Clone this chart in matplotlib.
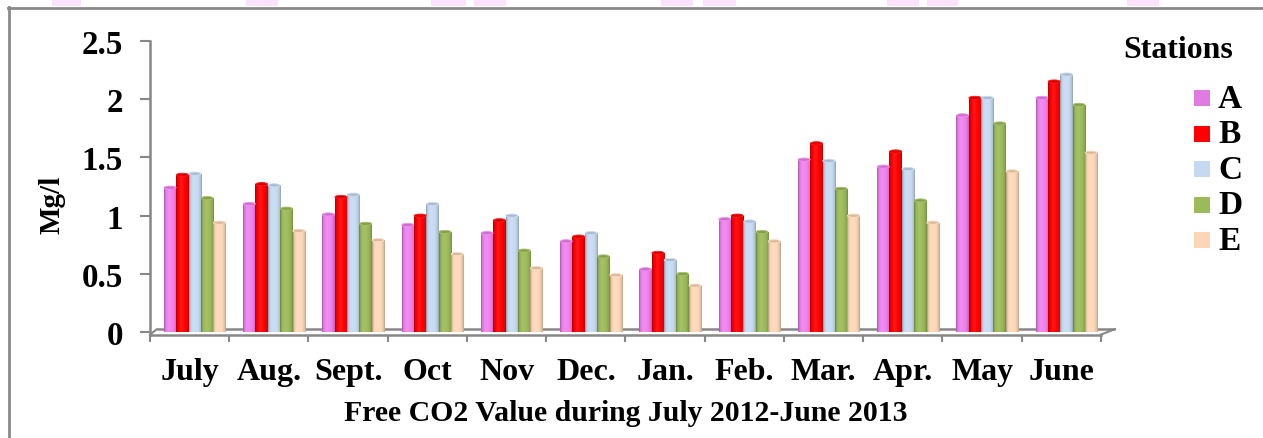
import numpy as np
import matplotlib
matplotlib.use("Agg")
import matplotlib.pyplot as plt
import matplotlib.colors as mcolors
from matplotlib.patches import Rectangle, Ellipse
from matplotlib.lines import Line2D

# ---- data -------------------------------------------------------------
months = ["July", "Aug.", "Sept.", "Oct", "Nov", "Dec.", "Jan.",
          "Feb.", "Mar.", "Apr.", "May", "June"]
stations = ["A", "B", "C", "D", "E"]
station_a = [1.24, 1.10, 1.01, 0.92, 0.85, 0.78, 0.54, 0.97, 1.48, 1.42, 1.86, 2.01]
station_b = [1.35, 1.27, 1.16, 1.00, 0.96, 0.82, 0.68, 1.00, 1.62, 1.55, 2.01, 2.15]
station_c = [1.36, 1.26, 1.18, 1.10, 1.00, 0.85, 0.62, 0.95, 1.47, 1.40, 2.01, 2.21]
station_d = [1.15, 1.06, 0.93, 0.86, 0.70, 0.65, 0.50, 0.86, 1.23, 1.13, 1.79, 1.95]
station_e = [0.94, 0.87, 0.79, 0.67, 0.55, 0.49, 0.40, 0.78, 1.00, 0.94, 1.38, 1.54]
y_ticks = [0, 0.5, 1, 1.5, 2, 2.5]
y_tick_labels = ["0", "0.5", "1", "1.5", "2", "2.5"]

series = [station_a, station_b, station_c, station_d, station_e]
colors = ["#ee82ee", "#ff0000", "#c6daf2", "#9bbb59", "#fdd8b8"]
legend_colors = ["#e07be0", "#ff0000", "#c5d9f0", "#9bbb59", "#fbd5b5"]

FONT = "Liberation Serif"
GREY = "#878787"

W, H = 1263, 439
fig = plt.figure(figsize=(W / 100, H / 100), dpi=100)
fig.patch.set_facecolor("white")

# faint pink smudges along the top edge of the page
page_marks = [(52, 81), (246, 278), (431, 466), (474, 506), (661, 693),
              (703, 736), (887, 919), (927, 958), (1127, 1159)]
for x0, x1 in page_marks:
    fig.patches.append(Rectangle((x0 / W, 1 - 7 / H), (x1 - x0) / W, 7 / H,
                                 transform=fig.transFigure, facecolor="#fbe2fb",
                                 edgecolor="none", zorder=0))

# chart frame (top and left edges)
fig.lines.append(Line2D([8.5 / W, 8.5 / W], [0, 1 - 8 / H], transform=fig.transFigure,
                        color="#8a8a8a", lw=2.0))
fig.lines.append(Line2D([8 / W, 1], [1 - 8.5 / H, 1 - 8.5 / H], transform=fig.transFigure,
                        color="#8a8a8a", lw=2.0))

ax_left, ax_right, ax_top, ax_bottom = 150, 1101, 41.7, 335.6
ax = fig.add_axes([ax_left / W, 1 - ax_bottom / H,
                   (ax_right - ax_left) / W, (ax_bottom - ax_top) / H])
ax.set_facecolor("none")

x = np.arange(len(months))
width = 0.156
shift = 0.065
px_per_unit = (ax_bottom - ax_top) / 2.52


def shaded(color, f):
    c = np.array(mcolors.to_rgb(color))
    if f >= 1:
        return c + (1 - c) * (f - 1)
    return c * f


t = np.linspace(0, 1, 40)
profile = np.interp(t, [0, 0.1, 0.38, 0.75, 0.92, 1.0], [0.68, 0.92, 1.1, 0.98, 0.88, 0.74])

for i, (vals, col) in enumerate(zip(series, colors)):
    pos = x + (i - 2) * width + shift
    bars = ax.bar(pos, vals, width=width, color=col, linewidth=0, zorder=2)
    row = np.array([np.clip(shaded(col, f), 0, 1) for f in profile])
    for b in bars:
        bx, by = b.get_x(), b.get_y()
        bw, bh = b.get_width(), b.get_height()
        im = ax.imshow(row[None, :, :], extent=[bx, bx + bw, by, by + bh],
                       aspect="auto", interpolation="bilinear", zorder=2.5)
        im.set_clip_path(b)
        cap_h = 3.2 / px_per_unit
        ax.add_patch(Ellipse((bx + bw / 2, by + bh), bw * 0.98, cap_h,
                             facecolor=shaded(col, 0.86), edgecolor=shaded(col, 1.1),
                             linewidth=0.6, zorder=3))

ax.set_xlim(-0.5, 11.5)
ax.set_ylim(-0.02, 2.5)

# floor of the 3-D plot area
back_y = 5.5 / px_per_unit - 0.02
ax.plot([-0.5 + 7 / 79.3, 11.5 + 14 / 79.3], [back_y, back_y], color=GREY, lw=1.8,
        zorder=1, clip_on=False, solid_capstyle="butt")
ax.plot([-0.5, -0.5 + 7 / 79.3], [-0.02, back_y], color=GREY, lw=1.5, zorder=1, clip_on=False)
ax.plot([11.5, 11.5 + 14 / 79.3], [-0.02, back_y], color=GREY, lw=1.5, zorder=1, clip_on=False)

for side in ["top", "right"]:
    ax.spines[side].set_visible(False)
for side in ["left", "bottom"]:
    ax.spines[side].set_color(GREY)
    ax.spines[side].set_linewidth(1.8)

ax.set_yticks(y_ticks)
ax.set_yticklabels(y_tick_labels, fontfamily=FONT, fontweight="bold", fontsize=23.8)
ax.tick_params(axis="y", direction="out", length=7, width=1.5, color=GREY, pad=12.5)

ax.set_xticks(x)
ax.set_xticklabels(months, fontfamily=FONT, fontweight="bold", fontsize=23)
ax.set_xticks(np.arange(-0.5, 12, 1), minor=True)
ax.tick_params(axis="x", which="major", length=0, pad=16)
ax.tick_params(axis="x", which="minor", direction="out", length=5, width=1.5, color=GREY)

ax.set_ylabel("Mg/l", fontfamily=FONT, fontweight="bold", fontsize=21)
ax.yaxis.set_label_coords((52 - ax_left) / (ax_right - ax_left),
                          (ax_bottom - 205) / (ax_bottom - ax_top))
ax.yaxis.label.set_va("center")

ax.set_xlabel("Free CO2 Value during July 2012-June 2013", fontfamily=FONT,
              fontweight="bold", fontsize=21.4)
ax.xaxis.set_label_coords(0.5, (ax_bottom - 414) / (ax_bottom - ax_top))
ax.xaxis.label.set_va("center")

# legend
fig.text(1123 / W, 1 - 50 / H, "Stations", fontfamily=FONT, fontweight="bold",
         fontsize=22.9, ha="left", va="center")
for k, (name, col) in enumerate(zip(stations, legend_colors)):
    yc = 99 + 35.5 * k
    fig.patches.append(Rectangle((1194 / W, 1 - (yc + 8) / H), 16 / W, 16 / H,
                                 transform=fig.transFigure, facecolor=col,
                                 edgecolor="none"))
    fig.text(1218 / W, 1 - (yc + 9) / H, name, fontfamily=FONT, fontweight="bold",
             fontsize=24, ha="left", va="baseline")

fig.savefig("out.png", dpi=100)
